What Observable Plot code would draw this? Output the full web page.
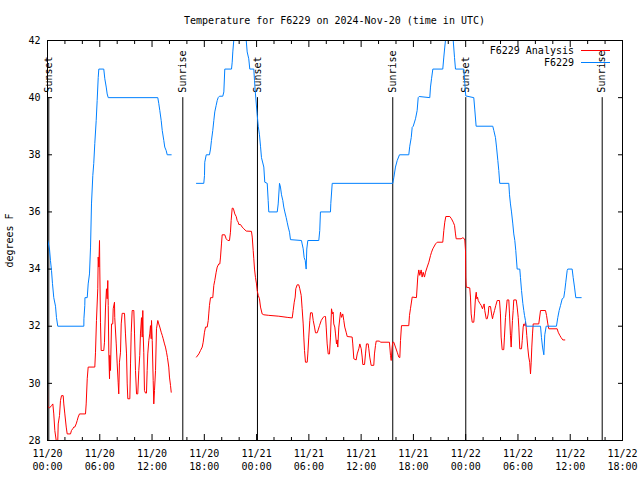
<!DOCTYPE html>
<html><head><meta charset="utf-8">
<script src="https://cdn.jsdelivr.net/npm/d3@7"></script>
<script src="https://cdn.jsdelivr.net/npm/@observablehq/plot@0.6"></script>
<style>
body{margin:0;background:#fff;}
#wrap{position:relative;width:640px;height:480px;font-family:"DejaVu Sans Mono",monospace;font-size:10px;color:#000;}
#title{position:absolute;top:14px;left:0;width:669px;text-align:center;line-height:13px;white-space:pre;}
#chart svg{display:block;}
</style></head><body>
<div id="wrap"><div id="chart"></div><div id="title"></div></div>
<script>
const titleText = "Temperature for F6229 on 2024-Nov-20 (time in UTC)";
const yLabel = "degrees F";
const seriesNames = ["F6229 Analysis", "F6229"];
const seriesColors = ["#ff0000", "#0080ff"];
const yTicks = [28, 30, 32, 34, 36, 38, 40, 42];
const xTickHours = [0, 6, 12, 18, 24, 30, 36, 42, 48, 54, 60, 66];
const xTickLabels = ["11/20\n00:00","11/20\n06:00","11/20\n12:00","11/20\n18:00","11/21\n00:00","11/21\n06:00","11/21\n12:00","11/21\n18:00","11/22\n00:00","11/22\n06:00","11/22\n12:00","11/22\n18:00"];
const eventNames = ["Sunset","Sunrise","Sunset","Sunrise","Sunset","Sunrise"];
const eventHours = [0.15, 15.53, 24.1, 39.63, 48.01, 63.67];
// [hours since 2024-11-20 00:00 UTC, deg F]; null = gap
const obsF6229 = [
[0.03,35.0],[0.23,34.7],[0.34,34.3],[0.46,33.95],[0.57,33.5],[0.72,33.0],[0.92,32.7],[1.03,32.3],[1.18,32.0],
[4.17,32.0],[4.18,32.26],[4.28,32.72],[4.3,33.0],[4.56,33.0],[4.67,33.48],[4.82,33.83],[4.94,34.77],[5.05,36.28],[5.2,37.27],
[5.31,37.7],[5.43,38.4],[5.59,39.2],[5.7,39.9],[5.82,40.7],[5.89,41.0],[6.46,41.0],[6.58,40.66],[6.74,40.37],[6.85,40.13],[6.97,40.0],
[12.66,40.0],[12.77,39.8],[12.89,39.55],[13.05,39.2],[13.17,38.85],[13.35,38.5],[13.46,38.27],[13.62,38.15],[13.74,38.0],[14.2,38.0],
[15.5,null],
[17.1,37.0],[17.94,37.0],[18.02,37.27],[18.05,37.74],[18.22,38.0],[18.59,38.0],[18.71,38.2],[18.82,38.5],[18.97,38.85],[19.09,39.2],
[19.2,39.5],[19.36,39.73],[19.48,39.9],[19.59,40.0],[19.74,40.05],[20.12,40.05],[20.24,40.2],[20.35,41.0],[21.12,41.0],[21.2,41.24],
[21.27,41.6],[21.38,42.0],[22.04,43.0],[22.81,42.0],[22.92,41.6],[23.1,41.36],[23.22,41.0],[23.68,41.0],[23.76,40.6],[23.87,40.13],
[24.07,39.4],[24.19,39.0],[24.33,38.7],[24.45,38.3],[24.56,37.9],[24.83,37.57],[24.94,37.04],[25.22,37.0],[25.33,36.4],[25.4,36.0],
[26.37,36.0],[26.48,36.28],[26.63,37.0],[26.74,36.87],[26.86,36.6],[27.01,36.4],[27.12,36.17],[27.24,36.0],[27.4,35.8],[27.51,35.64],
[27.63,35.47],[27.78,35.29],[27.89,35.03],[29.15,35.0],[29.23,34.88],[29.35,34.71],[29.46,34.4],[29.58,34.3],[29.69,34.0],[29.76,34.7],
[29.88,35.0],[31.14,35.0],[31.25,35.35],[31.33,36.0],[32.48,36.0],[32.52,36.3],[32.68,37.0],[39.63,37.0],[39.75,37.2],[39.94,37.57],
[40.14,37.8],[40.4,38.0],[41.47,38.0],[41.58,38.3],[41.75,38.6],[41.86,38.96],[41.98,39.0],[42.24,39.26],[42.43,39.55],[42.55,40.0],
[42.66,40.04],[43.88,40.0],[43.96,40.37],[44.08,40.66],[44.23,41.0],[45.37,41.0],[45.49,41.42],[45.6,41.77],[45.68,42.0],[46.14,42.6],
[46.57,42.0],[46.72,41.4],[46.83,41.0],[47.78,41.0],[47.9,40.5],[48.01,40.06],[48.93,40.0],[49.04,39.6],[49.2,39.0],[51.11,39.0],
[51.23,38.85],[51.42,38.6],[51.54,38.27],[51.69,37.8],[51.8,37.45],[51.91,37.0],[52.95,37.0],[53.03,36.6],[53.14,36.28],[53.26,36.0],
[53.41,35.58],[53.52,35.23],[53.64,35.0],[53.75,34.65],[53.91,34.0],[54.21,34.0],[54.29,33.7],[54.41,33.25],[54.56,32.8],[54.67,32.55],
[54.75,32.38],[54.86,32.2],[54.94,32.0],[56.59,32.0],[56.7,31.6],[56.82,31.27],[56.97,31.0],[57.08,31.7],[57.24,32.0],[58.42,32.0],
[58.57,32.3],[58.73,32.55],[58.88,32.72],[59.08,32.96],[59.26,33.0],[59.38,33.25],[59.49,33.54],[59.65,33.95],[59.72,34.0],[60.22,34.0],
[60.34,33.7],[60.49,33.37],[60.64,33.0],[61.26,33.0]
];
const anaF6229 = [
[0.0,30.0],[0.02,29.2],[0.23,29.14],[0.46,29.22],[0.61,29.28],[0.72,28.93],[0.84,28.35],[1.0,28.0],[1.18,28.0],[1.23,28.58],
[1.38,28.875],[1.49,29.4],[1.61,29.57],[1.8,29.57],[1.87,29.28],[1.99,28.93],[2.15,28.47],[2.26,28.23],[2.64,28.23],[2.75,28.35],
[2.9,28.41],[3.02,28.47],[3.13,28.47],[3.29,28.58],[3.41,28.7],[3.52,28.82],[3.67,28.93],[4.36,28.93],[4.44,29.28],[4.56,30.16],
[4.67,30.57],[5.43,30.57],[5.51,31.09],[5.62,32.2],[5.77,33.31],[5.82,34.42],[5.89,34.07],[5.97,35.0],[6.0,34.07],[6.08,32.14],
[6.16,31.15],[6.46,31.15],[6.54,31.44],[6.66,32.67],[6.77,33.31],[6.85,32.96],[6.92,33.6],[6.97,32.73],[7.04,31.03],[7.12,30.16],
[7.15,30.98],[7.23,30.45],[7.35,32.08],[7.49,32.08],[7.54,32.61],[7.69,32.84],[7.72,32.3],[7.89,31.38],[8.0,30.68],[8.11,30.04],
[8.18,29.63],[8.26,30.74],[8.38,31.09],[8.46,32.08],[8.57,32.45],[8.84,32.45],[8.95,31.73],[9.07,31.03],[9.15,29.98],[9.22,29.46],
[9.45,29.46],[9.53,30.68],[9.61,31.79],[9.72,32.55],[9.91,32.55],[9.99,31.73],[10.1,30.45],[10.22,29.63],[10.36,29.63],[10.48,30.45],
[10.59,30.98],[10.67,31.73],[10.79,32.3],[10.87,31.62],[10.94,32.55],[10.98,31.73],[11.05,31.09],[11.13,29.75],[11.25,29.66],[11.36,29.66],
[11.44,30.45],[11.51,31.03],[11.63,31.5],[11.74,31.73],[11.82,32.02],[11.9,31.56],[11.94,32.2],[12.02,31.5],[12.13,30.1],[12.2,29.28],
[12.28,29.75],[12.4,30.45],[12.51,31.91],[12.66,32.2],[12.77,32.08],[12.89,31.97],[13.05,31.79],[13.17,31.68],[13.28,31.56],[13.43,31.38],
[13.54,31.27],[13.66,31.09],[13.77,30.9],[13.92,30.57],[14.0,30.22],[14.12,29.93],[14.2,29.69],
[15.5,null],
[17.1,30.92],[17.37,31.03],[17.56,31.15],[17.76,31.27],[17.87,31.44],[18.02,31.79],[18.14,31.97],[18.33,31.97],[18.45,32.2],[18.51,32.43],
[18.59,32.73],[18.71,33.0],[18.97,33.0],[19.09,33.43],[19.2,33.6],[19.36,33.89],[19.48,34.07],[19.66,34.18],[19.78,34.18],[19.86,34.42],
[19.97,34.88],[20.05,35.2],[20.35,35.2],[20.51,35.06],[20.7,35.0],[20.89,35.0],[21.0,35.29],[21.08,35.7],[21.2,36.13],[21.31,36.13],
[21.38,36.07],[21.5,35.93],[21.66,35.84],[21.77,35.7],[21.89,35.64],[21.96,35.56],[22.15,35.56],[22.35,35.47],[22.53,35.41],[22.81,35.33],
[23.41,35.32],[23.5,35.12],[23.61,34.65],[23.68,34.36],[23.76,34.0],[23.87,33.71],[23.99,33.48],[24.07,33.25],[24.19,33.08],[24.33,32.96],
[24.45,32.67],[24.64,32.43],[24.83,32.4],[25.4,32.38],[26.55,32.35],[27.51,32.31],[28.09,32.29],[28.2,32.55],[28.32,32.84],[28.43,33.02],
[28.5,33.31],[28.66,33.45],[28.84,33.45],[28.96,33.31],[29.12,33.08],[29.23,32.61],[29.35,32.08],[29.42,31.62],[29.5,31.15],[29.61,30.74],
[29.81,30.74],[29.88,31.03],[29.99,31.62],[30.11,32.2],[30.19,32.47],[30.38,32.47],[30.5,32.2],[30.65,31.97],[30.76,31.77],[30.96,31.77],
[31.07,31.87],[31.22,32.02],[31.42,32.2],[31.64,32.31],[31.79,32.34],[31.91,32.34],[31.99,31.97],[32.1,31.38],[32.22,31.03],[32.37,31.03],
[32.48,31.62],[32.6,32.61],[32.71,32.43],[32.79,32.49],[32.86,32.08],[32.98,31.97],[33.06,31.73],[33.17,31.38],[33.25,31.52],[33.32,31.27],
[33.44,31.97],[33.63,32.49],[33.75,32.31],[33.89,32.43],[34.01,32.2],[34.12,31.97],[34.28,31.79],[34.4,31.64],[34.97,31.62],[35.04,31.38],
[35.16,30.86],[35.43,30.82],[35.55,31.03],[35.73,31.21],[35.85,31.38],[36.01,31.21],[36.12,30.92],[36.19,30.66],[36.39,30.66],[36.5,31.03],
[36.61,31.38],[36.81,31.38],[36.88,31.21],[36.99,30.92],[37.15,30.63],[37.45,30.63],[37.53,31.03],[37.65,31.33],[37.73,31.48],[38.11,31.48],
[38.22,31.44],[39.25,31.44],[39.37,30.98],[39.45,30.8],[39.56,31.27],[39.63,31.44],[39.75,31.44],[39.94,31.27],[40.14,31.09],[40.32,30.92],
[40.44,30.9],[40.52,31.5],[40.63,32.02],[41.47,32.02],[41.55,32.38],[41.66,32.61],[41.86,33.02],[42.35,33.0],[42.5,33.72],[42.62,33.97],
[42.73,33.78],[42.89,33.97],[43.0,33.72],[43.12,33.89],[43.27,33.72],[43.39,33.89],[43.58,34.07],[43.77,34.24],[43.96,34.47],[44.08,34.59],
[44.23,34.71],[44.34,34.77],[44.54,34.88],[44.73,34.94],[45.37,34.94],[45.49,35.35],[45.6,35.64],[45.72,35.84],[46.18,35.84],[46.37,35.76],
[46.57,35.64],[46.72,35.53],[46.83,35.23],[46.91,35.06],[47.48,35.06],[47.6,35.09],[47.75,35.09],[47.9,35.02],[47.98,34.65],[48.01,33.72],
[48.06,33.37],[48.47,33.34],[48.55,33.02],[48.63,32.43],[48.75,32.14],[48.93,32.14],[49.01,32.43],[49.13,33.02],[49.21,33.19],[49.28,32.96],
[49.36,33.02],[49.44,32.9],[49.62,32.8],[49.78,32.73],[49.93,32.61],[50.05,32.73],[50.12,32.78],[50.19,32.55],[50.36,32.26],[50.47,32.26],
[50.59,32.43],[50.66,32.69],[50.85,32.69],[50.97,32.43],[51.08,32.26],[51.16,32.38],[51.31,32.55],[51.46,32.73],[51.62,32.9],[51.88,32.9],
[51.99,32.43],[52.07,31.62],[52.19,31.18],[52.37,31.18],[52.45,31.62],[52.57,32.31],[52.76,32.92],[52.95,32.92],[53.03,32.43],[53.14,31.68],
[53.22,31.27],[53.29,31.73],[53.37,32.2],[53.45,32.55],[53.52,32.92],[53.8,32.92],[53.91,32.67],[54.03,32.31],[54.1,31.97],[54.21,31.21],
[54.41,31.21],[54.49,31.5],[54.6,31.97],[54.67,32.08],[54.79,32.02],[54.86,32.14],[54.94,31.97],[55.01,31.68],[55.12,31.27],[55.24,30.92],
[55.35,30.74],[55.44,30.33],[55.52,30.74],[55.59,31.27],[55.67,31.73],[55.75,32.08],[56.39,32.08],[56.59,32.55],[57.16,32.55],[57.28,32.38],
[57.43,32.08],[57.54,31.91],[58.5,31.91],[58.62,31.79],[58.8,31.68],[58.96,31.6],[59.15,31.52],[59.38,31.52]
];

const base = Date.UTC(2024, 10, 20);
const toDate = h => new Date(base + h * 3600000);
const hourOf = d => Math.round((+d - base) / 3600000);
const toRows = pts => pts.map(([h, t]) => ({date: toDate(h), temp: t}));
const obsRows = toRows(obsF6229);
const anaRows = toRows(anaF6229);
const events = eventNames.map((name, i) => ({name, date: toDate(eventHours[i])}));
const majorDates = xTickHours.map(toDate);
const minorDates = d3.range(0, 67, 2).filter(h => h % 6 !== 0).map(toDate);

const chart = Plot.plot({
  width: 640, height: 480,
  marginTop: 40, marginBottom: 40, marginLeft: 47, marginRight: 18,
  style: {fontFamily: "'DejaVu Sans Mono', monospace", fontSize: "10px", color: "#000", background: "#fff", overflow: "visible"},
  x: {type: "utc", domain: [toDate(0), toDate(66)]},
  y: {domain: [28, 42]},
  marks: [
    Plot.axisY({ticks: yTicks, tickSize: -5, tickPadding: 12, tickFormat: d => String(d), label: yLabel, labelAnchor: "center", labelArrow: false, labelOffset: 42}),
    Plot.axisY({anchor: "right", ticks: yTicks, tickSize: -5, text: null, label: null}),
    Plot.axisX({ticks: majorDates, tickSize: -6, tickPadding: 13, lineHeight: 1.3, tickFormat: d => xTickLabels[xTickHours.indexOf(hourOf(d))], label: null}),
    Plot.axisX({ticks: minorDates, tickSize: -3, text: null, label: null}),
    Plot.axisX({anchor: "top", ticks: majorDates, tickSize: -6, text: null, label: null}),
    Plot.axisX({anchor: "top", ticks: minorDates, tickSize: -3, text: null, label: null}),
    Plot.ruleX(events, {x: "date", y1: 28, y2: 40, stroke: "#000", strokeWidth: 1}),
    Plot.text(events, {x: "date", y: 40, text: "name", rotate: -90, textAnchor: "start", dy: -5, fill: "#000"}),
    Plot.line(anaRows, {x: "date", y: "temp", stroke: seriesColors[0], strokeWidth: 1, clip: true}),
    Plot.line(obsRows, {x: "date", y: "temp", stroke: seriesColors[1], strokeWidth: 1, clip: true}),
    Plot.frame({stroke: "#000", strokeWidth: 1})
  ]
});
document.getElementById("chart").appendChild(chart);
document.getElementById("title").textContent = titleText;

// in-plot legend (top right), gnuplot style
const svg = d3.select(chart);
const lg = svg.append("g").attr("font-family", "'DejaVu Sans Mono', monospace").attr("font-size", 10);
seriesNames.forEach((name, i) => {
  const y = 50.5 + i * 12;
  lg.append("text").attr("x", 574).attr("y", y).attr("dy", "0.35em").attr("text-anchor", "end").attr("fill", "#000").text(name);
  lg.append("line").attr("x1", 581).attr("x2", 610).attr("y1", y).attr("y2", y).attr("stroke", seriesColors[i]).attr("stroke-width", 1);
});
</script>
</body></html>
